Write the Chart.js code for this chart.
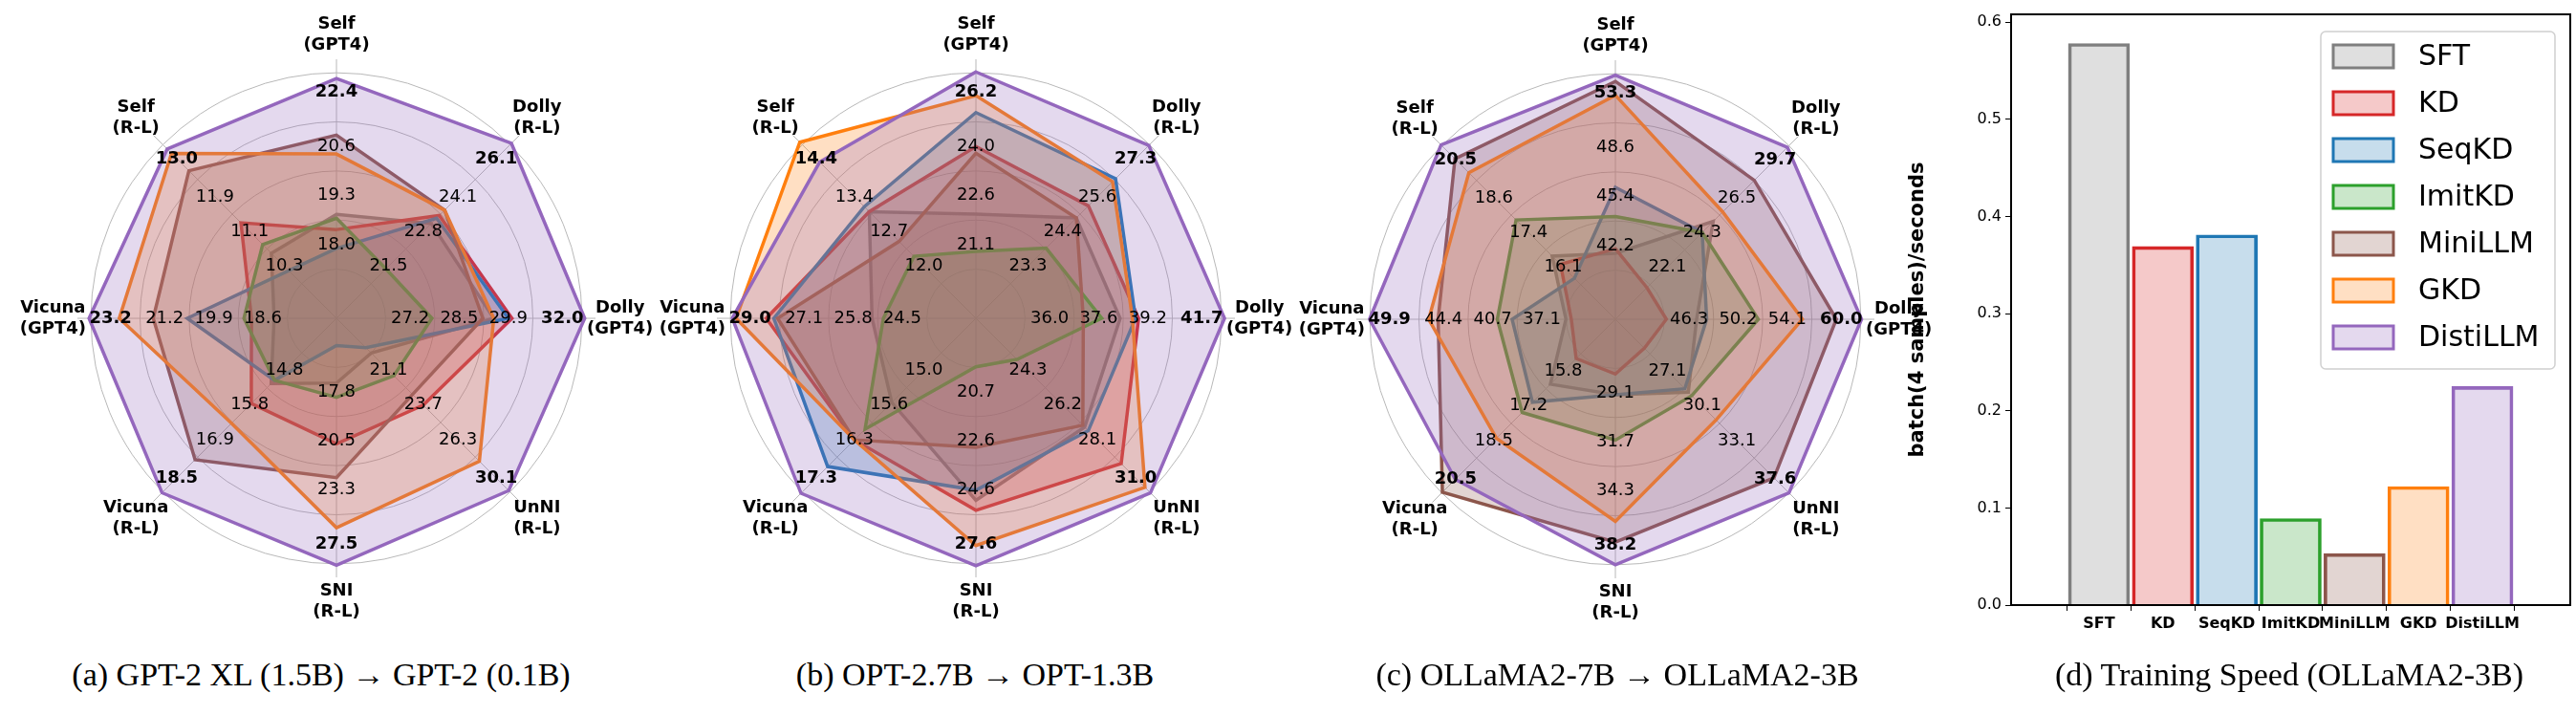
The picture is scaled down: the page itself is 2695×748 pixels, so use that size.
<!DOCTYPE html>
<html><head><meta charset="utf-8">
<script src="https://cdn.jsdelivr.net/npm/chart.js@4/dist/chart.umd.min.js"></script>
<style>
body{margin:0;width:2695px;height:748px;background:#fff;position:relative;overflow:hidden;font-family:"DejaVu Sans";}
canvas{position:absolute;}
.cap{position:absolute;font-family:"Liberation Serif";font-size:34px;color:#000;white-space:nowrap;transform:translate(-50%,-50%);}
</style></head><body>
<canvas id="ca" style="left:2px;top:-17px" width="700" height="700"></canvas>
<canvas id="cb" style="left:671px;top:-17px" width="700" height="700"></canvas>
<canvas id="cc" style="left:1340px;top:-16px" width="700" height="700"></canvas>
<canvas id="cd" style="left:1990px;top:0px" width="705" height="700"></canvas>
<div class="cap" style="left:336px;top:706px">(a) GPT-2 XL (1.5B) → GPT-2 (0.1B)</div>
<div class="cap" style="left:1020px;top:706px">(b) OPT-2.7B → OPT-1.3B</div>
<div class="cap" style="left:1692px;top:706px">(c) OLLaMA2-7B → OLLaMA2-3B</div>
<div class="cap" style="left:2395px;top:706px">(d) Training Speed (OLLaMA2-3B)</div>
<script>
const methods = ['SFT','KD','SeqKD','ImitKD','MiniLLM','GKD','DistiLLM'];
const colors = ['#7f7f7f','#d62728','#1f77b4','#2ca02c','#8c564b','#ff7f0e','#9467bd'];
const axisNames = [['Self','(GPT4)'],['Dolly','(R-L)'],['Dolly','(GPT4)'],['UnNI','(R-L)'],['SNI','(R-L)'],['Vicuna','(R-L)'],['Vicuna','(GPT4)'],['Self','(R-L)']];

// tick labels per axis: [t0, t1, t2, max]
const ticksA = [[18.0,19.3,20.6,22.4],[21.5,22.8,24.1,26.1],[27.2,28.5,29.9,32.0],[21.1,23.7,26.3,30.1],[17.8,20.5,23.3,27.5],[14.8,15.8,16.9,18.5],[18.6,19.9,21.2,23.2],[10.3,11.1,11.9,13.0]];
const ticksB = [[21.1,22.6,24.0,26.2],[23.3,24.4,25.6,27.3],[36.0,37.6,39.2,41.7],[24.3,26.2,28.1,31.0],[20.7,22.6,24.6,27.6],[15.0,15.6,16.3,17.3],[24.5,25.8,27.1,29.0],[12.0,12.7,13.4,14.4]];
const ticksC = [[42.2,45.4,48.6,53.3],[22.1,24.3,26.5,29.7],[46.3,50.2,54.1,60.0],[27.1,30.1,33.1,37.6],[29.1,31.7,34.3,38.2],[15.8,17.2,18.5,20.5],[37.1,40.7,44.4,49.9],[16.1,17.4,18.6,20.5]];

// (a) GPT-2
const a_SFT     = [18.8,23.1,29.5,19.8,17.3,15.2,18.3,10.6];
const a_KD      = [18.4,23.4,30.0,23.7,20.7,15.8,18.9,11.3];
const a_SeqKD   = [17.9,23.3,29.9,19.4,15.2,15.1,20.6,10.2];
const a_ImitKD  = [18.7,21.4,27.8,21.5,18.1,15.1,19.1,10.8];
const a_MiniLLM = [20.9,23.6,29.2,22.9,22.6,17.5,21.5,12.5];
const a_GKD     = [20.4,23.6,29.5,27.9,25.4,16.4,22.4,12.9];
const a_Disti   = [22.4,26.1,32.0,30.1,27.5,18.5,23.2,13.0];
// (b) OPT
const b_SFT     = [22.0,24.9,38.3,27.4,25.0,15.6,25.3,13.1];
const b_KD      = [24.0,25.3,38.9,29.4,25.4,16.3,28.1,13.1];
const b_SeqKD   = [25.0,26.2,38.8,27.6,24.6,16.8,27.9,13.2];
const b_ImitKD  = [20.9,23.9,37.7,23.7,19.7,16.1,25.0,12.2];
const b_MiniLLM = [23.8,24.9,37.1,27.3,22.9,16.3,27.8,12.5];
const b_GKD     = [25.5,26.1,38.7,30.7,26.8,16.3,28.9,14.5];
const b_Disti   = [26.2,27.3,41.7,31.0,27.6,17.3,29.0,14.1];
// (c) OLLaMA2
const c_SFT     = [41.7,25.0,46.9,28.9,29.2,16.3,35.3,16.5];
const c_KD      = [42.0,20.8,44.5,25.1,28.1,15.3,34.9,16.2];
const c_SeqKD   = [46.0,24.3,47.7,28.6,29.2,17.0,39.3,15.7];
const c_ImitKD  = [44.1,24.3,51.8,29.2,31.6,17.4,40.4,17.8];
const c_MiniLLM = [52.9,27.6,58.0,36.3,37.0,20.5,44.8,20.0];
const c_GKD     = [52.0,25.6,55.3,31.3,35.9,18.4,45.5,19.5];
const c_Disti   = [53.3,29.7,60.0,37.6,38.2,20.0,49.9,20.5];

// (d) speed
const speedLabels = ['SFT','KD','SeqKD','ImitKD','MiniLLM','GKD','DistiLLM'];
const speedValues = [0.578,0.369,0.381,0.089,0.053,0.122,0.225];

function rgba(hex,a){const n=parseInt(hex.slice(1),16);return `rgba(${n>>16},${(n>>8)&255},${n&255},${a})`;}
function norm(v,t){return 0.3+0.2*(v-t[0])/((t[2]-t[0])/2);}

function radar(id, ticks, series){
  const labelPlugin = {
    id:'lbl'+id,
    afterDatasetsDraw(chart){
      const s = chart.scales.r, ctx = chart.ctx;
      const R = s.getDistanceFromCenterForValue(1);
      ctx.save(); ctx.fillStyle='#000'; ctx.textAlign='center'; ctx.textBaseline='middle';
      for(let i=0;i<8;i++){
        ctx.font='18px "DejaVu Sans"';
        [0.3,0.5,0.7].forEach((r,k)=>{const p=s.getPointPosition(i,r*R);ctx.fillText(ticks[i][k].toFixed(1),p.x,p.y);});
        ctx.font='bold 18px "DejaVu Sans"';
        const q=s.getPointPosition(i,0.92*R); ctx.fillText(ticks[i][3].toFixed(1),q.x,q.y);
        const L=s.getPointPosition(i,1.155*R);
        ctx.fillText(axisNames[i][0],L.x,L.y-11); ctx.fillText(axisNames[i][1],L.x,L.y+11);
      }
      ctx.restore();
    }
  };
  new Chart(document.getElementById(id),{
    type:'radar',
    data:{labels:axisNames.map(a=>a.join(' ')),
      datasets:series.map((vals,i)=>({label:methods[i],data:vals.map((v,j)=>norm(v,ticks[j])),
        borderColor:colors[i],backgroundColor:rgba(colors[i],0.25),fill:true,borderWidth:3.5,
        pointRadius:0,tension:0,order:7-i}))},
    options:{responsive:false,animation:false,layout:{padding:79},
      plugins:{legend:{display:false},tooltip:{enabled:false}},
      scales:{r:{min:0,max:1.055,
        afterBuildTicks:(sc)=>{sc.ticks=[0,0.2,0.4,0.6,0.8,1.0].map(v=>({value:v}));},
        ticks:{display:false},pointLabels:{display:false},
        grid:{circular:true,color:'#b8b8b8',lineWidth:1},
        angleLines:{color:'#b8b8b8',lineWidth:1}}}},
    plugins:[labelPlugin]
  });
}
radar('ca',ticksA,[a_SFT,a_KD,a_SeqKD,a_ImitKD,a_MiniLLM,a_GKD,a_Disti]);
radar('cb',ticksB,[b_SFT,b_KD,b_SeqKD,b_ImitKD,b_MiniLLM,b_GKD,b_Disti]);
radar('cc',ticksC,[c_SFT,c_KD,c_SeqKD,c_ImitKD,c_MiniLLM,c_GKD,c_Disti]);

const frame = {id:'frame',
  afterDraw(chart){
    const {ctx,chartArea:a}=chart;
    ctx.save();ctx.strokeStyle='#000';ctx.lineWidth=2;ctx.strokeRect(a.left,a.top,a.right-a.left,a.bottom-a.top);
    // legend
    const lx=438, ly=33, lw=245, lh=353;
    ctx.fillStyle='rgba(255,255,255,0.85)';ctx.strokeStyle='#d0d0d0';ctx.lineWidth=1.5;
    ctx.beginPath();ctx.roundRect(lx,ly,lw,lh,5);ctx.fill();ctx.stroke();
    ctx.font='30px "DejaVu Sans"';ctx.textBaseline='middle';ctx.textAlign='left';
    methods.forEach((m,i)=>{const y=59+i*49;
      ctx.fillStyle=rgba(colors[i],0.25);ctx.fillRect(451,y-12,63,24);
      ctx.strokeStyle=colors[i];ctx.lineWidth=3;ctx.strokeRect(451,y-12,63,24);
      ctx.fillStyle='#000';ctx.fillText(m,540,y+1);});
    ctx.restore();
  }};
new Chart(document.getElementById('cd'),{
  type:'bar',
  data:{datasets:[{data:speedValues.map((v,i)=>({x:i,y:v})),
    backgroundColor:colors.map(c=>rgba(c,0.25)),borderColor:colors,borderWidth:3,barThickness:64}]},
  options:{responsive:false,animation:false,layout:{padding:{top:15,right:6,left:0,bottom:0}},
    plugins:{legend:{display:false},tooltip:{enabled:false}},
    scales:{
      x:{type:'linear',min:-0.75,max:6.75,
        afterBuildTicks:(sc)=>{sc.ticks=speedLabels.map((_,i)=>({value:i}));},
        afterFit:(sc)=>{sc.height=67;},
        ticks:{callback:(v)=>speedLabels[v],color:'#000',font:{family:'DejaVu Sans',weight:'bold',size:16},maxRotation:0,autoSkip:false,padding:4},
        grid:{display:true,drawOnChartArea:false,drawTicks:true,tickLength:6,color:'#000'},
        border:{color:'#000',width:2}},
      y:{min:0,max:0.608,
        afterBuildTicks:(sc)=>{sc.ticks=[0,0.1,0.2,0.3,0.4,0.5,0.6].map(v=>({value:v}));},
        afterFit:(sc)=>{sc.width=114;},
        ticks:{callback:(v)=>v.toFixed(1),color:'#000',font:{family:'DejaVu Sans',size:16},padding:4},
        grid:{display:true,drawOnChartArea:false,drawTicks:true,tickLength:6,color:'#000'},
        border:{color:'#000',width:2},
        title:{display:true,text:'batch(4 samples)/seconds',color:'#000',font:{family:'DejaVu Sans',weight:'bold',size:21},padding:{bottom:6}}}}},
  plugins:[frame]
});
</script></body></html>
